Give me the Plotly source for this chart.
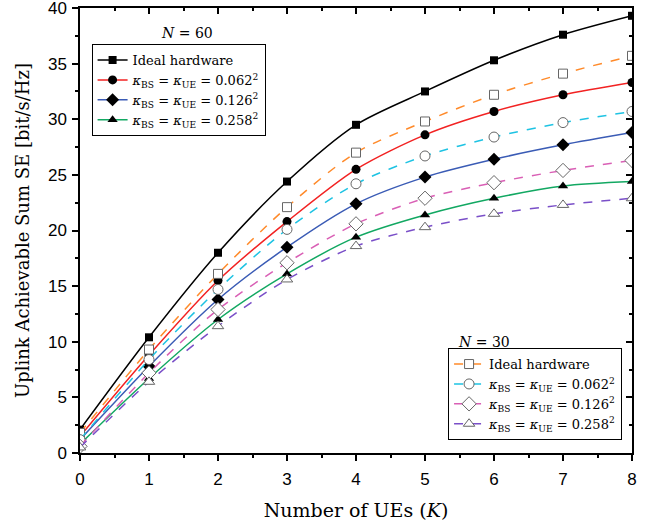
import plotly.graph_objects as go

# Number of UEs
K = [0, 1, 2, 3, 4, 5, 6, 7, 8]

# N = 60 antennas
se60_ideal = [2.1, 10.4, 18.0, 24.4, 29.5, 32.5, 35.3, 37.6, 39.3]
se60_k062 = [1.5, 8.8, 15.5, 20.8, 25.5, 28.6, 30.7, 32.2, 33.3]
se60_k126 = [1.2, 7.8, 13.8, 18.5, 22.4, 24.8, 26.4, 27.7, 28.8]
se60_k258 = [0.8, 6.7, 12.0, 16.1, 19.4, 21.4, 22.9, 24.0, 24.4]

# N = 30 antennas
se30_ideal = [1.8, 9.3, 16.1, 22.1, 27.0, 29.8, 32.2, 34.1, 35.7]
se30_k062 = [1.2, 8.4, 14.7, 20.1, 24.2, 26.7, 28.4, 29.7, 30.7]
se30_k126 = [0.6, 7.2, 12.9, 17.1, 20.6, 22.9, 24.3, 25.4, 26.3]
se30_k258 = [0.5, 6.4, 11.4, 15.6, 18.6, 20.3, 21.5, 22.3, 22.9]

names = [
    "Ideal hardware",
    "<i>κ</i><sub>BS</sub> = <i>κ</i><sub>UE</sub> = 0.062<sup>2</sup>",
    "<i>κ</i><sub>BS</sub> = <i>κ</i><sub>UE</sub> = 0.126<sup>2</sup>",
    "<i>κ</i><sub>BS</sub> = <i>κ</i><sub>UE</sub> = 0.258<sup>2</sup>",
]

colors60 = ["#000000", "#F22222", "#3A5BB5", "#12A862"]
colors30 = ["#FF8A2A", "#1EC3E3", "#D95FB5", "#7A4FC8"]
symbols = ["square", "circle", "diamond", "triangle-up"]
sizes = [8, 9, 10, 9]

SERIF = "DejaVu Serif"
SANS = "Liberation Sans"

fig = go.Figure()

for name, ys, col, sym, sz in zip(names, [se60_ideal, se60_k062, se60_k126, se60_k258], colors60, symbols, sizes):
    fig.add_trace(go.Scatter(
        x=K, y=ys, name=name, mode="lines+markers", legend="legend",
        line=dict(color=col, width=1.5, shape="spline", smoothing=0.8),
        marker=dict(symbol=sym, size=sz, color="black", line=dict(color="black", width=0)),
    ))

for name, ys, col, sym, sz in zip(names, [se30_ideal, se30_k062, se30_k126, se30_k258], colors30, symbols, sizes):
    fig.add_trace(go.Scatter(
        x=K, y=ys, name=name, mode="lines+markers", legend="legend2",
        line=dict(color=col, width=1.5, dash="dash", shape="spline", smoothing=0.8),
        marker=dict(symbol=sym, size=sz + 1, color="white", line=dict(color="#666666", width=1)),
    ))

# invisible trace to carry the mirrored top/right axes
fig.add_trace(go.Scatter(x=[None], y=[None], xaxis="x2", yaxis="y2",
                         showlegend=False, hoverinfo="skip"))

axis_common = dict(showline=True, linecolor="black", linewidth=1.5, showgrid=False,
                   zeroline=False, tickcolor="black", tickwidth=1.5, ticklen=6,
                   automargin=False)

fig.update_layout(
    width=655, height=527,
    margin=dict(l=80, r=23, t=8, b=74),
    plot_bgcolor="white", paper_bgcolor="white",
    xaxis=dict(range=[0, 8], dtick=1, ticks="outside", ticklabeloverflow="allow",
               ticklabelstandoff=4,
               minor=dict(dtick=0.5, ticks="outside", ticklen=3, tickcolor="black", tickwidth=1.5),
               tickfont=dict(family=SANS, size=17, color="black"),
               title=dict(text="Number of UEs (<i>K</i>)", font=dict(family=SERIF, size=19, color="black"),
                          standoff=16),
               **axis_common),
    yaxis=dict(range=[0, 40], dtick=5, ticks="outside", ticklabeloverflow="allow",
               ticklabelstandoff=2,
               minor=dict(dtick=2.5, ticks="outside", ticklen=3, tickcolor="black", tickwidth=1.5),
               tickfont=dict(family=SANS, size=17, color="black"),
               title=dict(text="Uplink Achievable Sum SE [bit/s/Hz]", font=dict(family=SERIF, size=18, color="black"),
                          standoff=14),
               **axis_common),
    xaxis2=dict(range=[0, 8], dtick=1, overlaying="x", side="top", ticks="inside",
                showticklabels=False,
                minor=dict(dtick=0.5, ticks="inside", ticklen=3, tickcolor="black", tickwidth=1.5),
                **axis_common),
    yaxis2=dict(range=[0, 40], dtick=5, overlaying="y", side="right", ticks="inside",
                showticklabels=False,
                minor=dict(dtick=2.5, ticks="inside", ticklen=3, tickcolor="black", tickwidth=1.5),
                **axis_common),
    legend=dict(x=0.021, y=0.919, xanchor="left", yanchor="top",
                bgcolor="white", bordercolor="black", borderwidth=1,
                font=dict(family=SERIF, size=13, color="black"),
                itemwidth=30, tracegroupgap=0),
    legend2=dict(x=0.982, y=0.029, xanchor="right", yanchor="bottom",
                 bgcolor="white", bordercolor="black", borderwidth=1,
                 font=dict(family=SERIF, size=13, color="black"),
                 itemwidth=30, tracegroupgap=0),
    annotations=[
        dict(text="<i>N</i> = 60", x=0.144, y=0.921, xref="paper", yref="paper",
             showarrow=False, font=dict(family=SERIF, size=14, color="black"), yanchor="bottom"),
        dict(text="<i>N</i> = 30", x=0.782, y=0.227, xref="paper", yref="paper",
             showarrow=False, font=dict(family=SERIF, size=14, color="black"), yanchor="bottom"),
    ],
)

fig.write_html("out.html")
